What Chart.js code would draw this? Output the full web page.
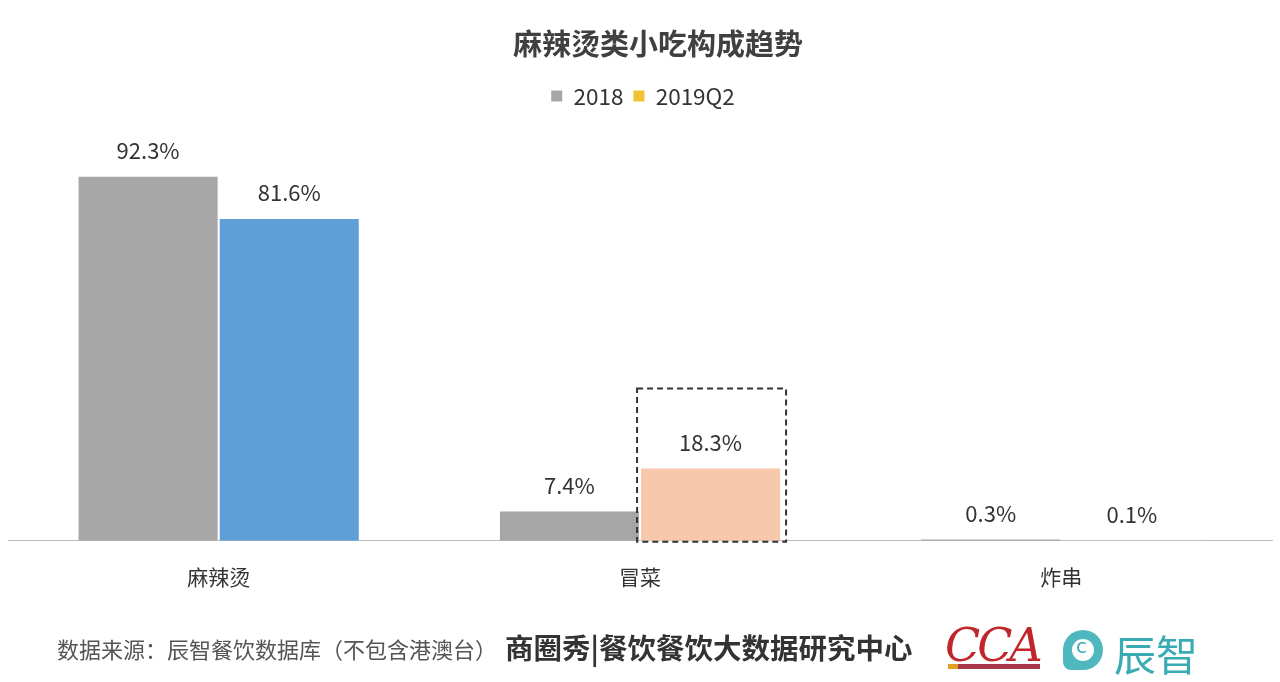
<!DOCTYPE html>
<html><head><meta charset="utf-8">
<script src="https://cdn.jsdelivr.net/npm/chart.js@4"></script>
<style>
html,body{margin:0;padding:0;background:#fff;}
#wrap{position:relative;width:1280px;height:682px;overflow:hidden;background:#fff;}
#c{position:absolute;left:0;top:0;}
.ft{position:absolute;font-family:"Noto Sans CJK SC",sans-serif;white-space:nowrap;}
</style></head>
<body>
<div id="wrap">
<canvas id="c" width="1280" height="682"></canvas>
<div class="ft" style="left:57px;top:632px;font-size:22px;color:#555;">数据来源：辰智餐饮数据库（不包含港澳台）</div>
<div class="ft" style="left:505px;top:626px;font-size:28.5px;font-weight:bold;color:#333;">商圈秀|餐饮餐饮大数据研究中心</div>
<div class="ft" style="left:945px;top:618px;font-size:46px;font-style:italic;font-family:'DejaVu Serif',serif;color:#c0262b;letter-spacing:-3px;">CCA</div>
<div style="position:absolute;left:948px;top:664px;width:92px;height:5px;background:#a8384a;"></div>
<div style="position:absolute;left:948px;top:664px;width:10px;height:5px;background:#e0a020;"></div>
<div style="position:absolute;left:1063px;top:630px;width:40px;height:40px;border-radius:50% 50% 50% 8px;background:#4fb8bf;"></div>
<div style="position:absolute;left:1072px;top:639px;width:22px;height:22px;border-radius:50%;background:#fff;"></div>
<div class="ft" style="left:1076px;top:634px;font-size:20px;color:#3aaab3;font-family:'DejaVu Sans',sans-serif;">c</div>
<div class="ft" style="left:1114px;top:622px;font-size:42px;color:#3aaab3;">辰智</div>
</div>
<script>
const categories = ["麻辣烫", "冒菜", "炸串"];
const seriesNames = ["2018", "2019Q2"];
const values2018 = [92.3, 7.4, 0.3];
const values2019Q2 = [81.6, 18.3, 0.1];
const labels2018 = ["92.3%", "7.4%", "0.3%"];
const labels2019Q2 = ["81.6%", "18.3%", "0.1%"];

const FONT = '"Noto Sans CJK SC", sans-serif';

const legendMargin = {
  id: 'legendMargin',
  beforeInit(chart) {
    const orig = chart.legend.fit;
    chart.legend.fit = function () { orig.bind(chart.legend)(); this.height += 29; };
  },
  afterLayout(chart) {
    const t = chart.titleBlock;
    if (t) { t.left += 18; t.right += 18; }
    const l = chart.legend;
    if (l) { l.left += 3; l.right += 3; }
  }
};

const dataLabelPlugin = {
  id: 'dlabels',
  afterDatasetsDraw(chart) {
    const ctx = chart.ctx;
    const lbls = [labels2018, labels2019Q2];
    ctx.save();
    ctx.font = '22px ' + FONT;
    ctx.fillStyle = '#333';
    ctx.textAlign = 'center';
    ctx.textBaseline = 'middle';
    chart.data.datasets.forEach((ds, di) => {
      chart.getDatasetMeta(di).data.forEach((bar, i) => {
        ctx.fillText(lbls[di][i], bar.x, bar.y - 26);
      });
    });
    // dashed highlight box around 冒菜 2019Q2
    const b = chart.getDatasetMeta(1).data[1];
    const left = b.x - b.width / 2 - 4;
    const right = b.x + b.width / 2 + 6;
    const top = b.y - 80;
    const bottom = chart.chartArea.bottom + 1;
    ctx.setLineDash([6, 4]);
    ctx.strokeStyle = '#333';
    ctx.lineWidth = 2;
    ctx.strokeRect(left, top, right - left, bottom - top);
    ctx.restore();
  }
};

new Chart(document.getElementById('c'), {
  type: 'bar',
  data: {
    labels: categories,
    datasets: [
      { label: seriesNames[0], data: values2018, backgroundColor: '#a6a6a6', borderWidth: 0 },
      { label: seriesNames[1], data: values2019Q2, backgroundColor: ['#5f9fd7', '#f8c8ad', '#f8c8ad'], borderWidth: 0 }
    ]
  },
  options: {
    responsive: false,
    animation: false,
    layout: { padding: { left: 8, right: 8, top: 14, bottom: 68 } },
    datasets: { bar: { categoryPercentage: 0.67, barPercentage: 0.985 } },
    plugins: {
      title: {
        display: true,
        text: '麻辣烫类小吃构成趋势',
        color: '#404040',
        font: { family: FONT, size: 29, weight: 'bold' },
        padding: { top: 13, bottom: 13 }
      },
      legend: {
        display: true,
        labels: {
          color: '#333',
          font: { family: FONT, size: 22.5 },
          boxWidth: 11, boxHeight: 11,
          generateLabels(chart) {
            const cols = ['#a6a6a6', '#f2c12e'];
            return seriesNames.map((n, i) => ({
              text: n, fillStyle: cols[i], strokeStyle: cols[i], lineWidth: 0,
              datasetIndex: i, fontColor: '#333'
            }));
          }
        }
      },
      tooltip: { enabled: false }
    },
    scales: {
      x: {
        grid: { display: false, drawTicks: false },
        border: { display: true, color: '#bdbdbd', width: 1 },
        ticks: { color: '#333', font: { family: FONT, size: 21 }, padding: 24 }
      },
      y: { display: false, min: 0, max: 100 }
    }
  },
  plugins: [legendMargin, dataLabelPlugin]
});
</script>
</body></html>
